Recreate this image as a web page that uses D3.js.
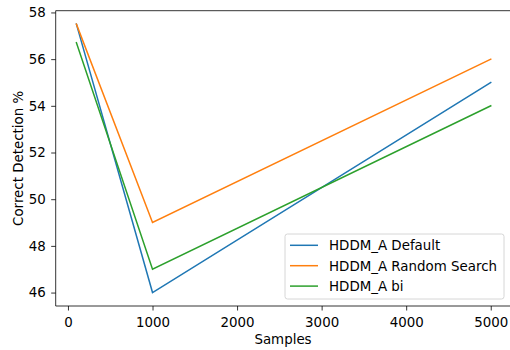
<!DOCTYPE html>
<html><head><meta charset="utf-8">
<script src="https://cdn.jsdelivr.net/npm/d3@7"></script>
<style>body{margin:0;background:#fff}svg{display:block}text{font-family:"DejaVu Sans",sans-serif;fill:#000}</style>
</head><body><svg id="c" width="510" height="350"></svg>
<script>
const samples = [100, 1000, 5000];
const seriesNames = ["HDDM_A Default", "HDDM_A Random Search", "HDDM_A bi"];
const defaultVals = [57.5, 46, 55];
const randomVals = [57.5, 49, 56];
const biVals = [56.7, 47, 54];
const colors = ["#1f77b4", "#ff7f0e", "#2ca02c"];
const xTicks = [0, 1000, 2000, 3000, 4000, 5000];
const yTicks = [46, 48, 50, 52, 54, 56, 58];

const svg = d3.select("#c");
const L = 55.7, R = 510, T = 10.7, B = 306;
const x = d3.scaleLinear().domain([-145, 5145]).range([L, 503]);
const y = d3.scaleLinear().domain([45.425, 58.075]).range([B, T]);

const fs = 13.4;
// axes
const gx = svg.append("g").attr("transform", `translate(0,${B})`)
  .call(d3.axisBottom(x).tickValues(xTicks).tickSize(4.5).tickPadding(6.5).tickFormat(d3.format("d")));
const gy = svg.append("g").attr("transform", `translate(${L},0)`)
  .call(d3.axisLeft(y).tickValues(yTicks).tickSize(4.5).tickPadding(5.5).tickFormat(d3.format("d")));
[gx, gy].forEach(g => {
  g.select(".domain").remove();
  g.selectAll("line").attr("stroke", "#000").attr("stroke-width", 0.8);
  g.selectAll("text").attr("font-size", fs).attr("font-family", "DejaVu Sans").attr("fill", "#000");
});
// spines
svg.append("line").attr("x1", L).attr("x2", L).attr("y1", T).attr("y2", B).attr("stroke", "#000").attr("stroke-width", 0.8);
svg.append("line").attr("x1", L).attr("x2", R).attr("y1", B).attr("y2", B).attr("stroke", "#000").attr("stroke-width", 0.8);
svg.append("line").attr("x1", L).attr("x2", R).attr("y1", T).attr("y2", T).attr("stroke", "#000").attr("stroke-width", 0.8);

// lines
const allVals = [defaultVals, randomVals, biVals];
const line = d3.line().x((d, i) => x(samples[i])).y(d => y(d));
allVals.forEach((vals, k) => {
  svg.append("path").datum(vals).attr("d", line).attr("fill", "none")
    .attr("stroke", colors[k]).attr("stroke-width", 1.5).attr("stroke-linecap", "square");
});

// labels
svg.append("text").attr("x", 283).attr("y", 344).attr("text-anchor", "middle").attr("font-size", fs).text("Samples");
svg.append("text").attr("transform", `translate(22.7,${(T + B) / 2}) rotate(-90)`).attr("text-anchor", "middle").attr("font-size", fs).text("Correct Detection %");

// legend
const lg = svg.append("g");
lg.append("rect").attr("x", 285).attr("y", 234).attr("width", 219).attr("height", 65).attr("rx", 2.5)
  .attr("fill", "#fff").attr("fill-opacity", 0.8).attr("stroke", "#ccc").attr("stroke-width", 0.8);
seriesNames.forEach((n, k) => {
  const yy = 245.3 + k * 20.4;
  lg.append("line").attr("x1", 290).attr("x2", 318).attr("y1", yy).attr("y2", yy).attr("stroke", colors[k]).attr("stroke-width", 1.5);
  lg.append("text").attr("x", 329).attr("y", yy + 4.8).attr("font-size", fs).text(n);
});
</script></body></html>
